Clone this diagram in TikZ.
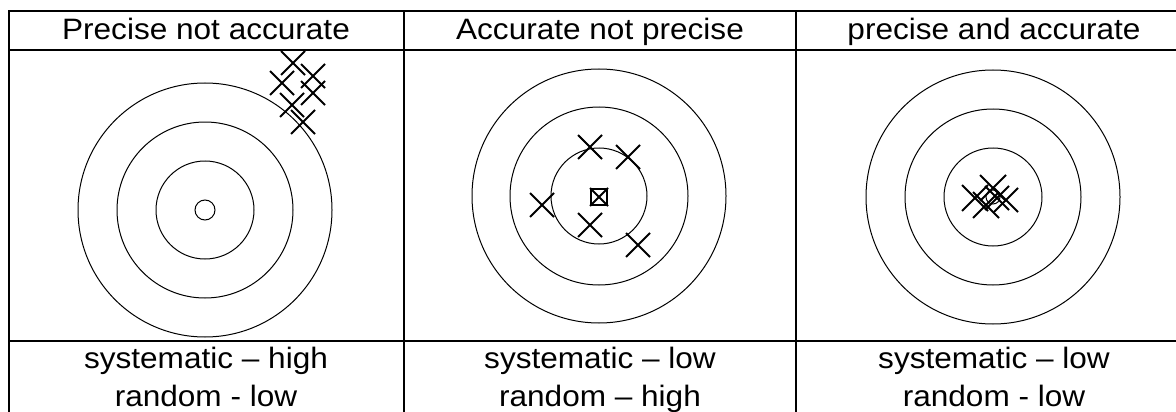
\documentclass[tikz,border=0pt]{standalone}
\usepackage{fontspec}
\setmainfont{Liberation Sans}[FakeStretch=1.07]
\tikzset{
  grid/.style={line width=2.6pt, line cap=rect},
  ring/.style={line width=1pt},
  hit/.style={line width=2pt},
  label/.style={anchor=base, inner sep=0pt, font=\fontsize{29.5}{34}\selectfont},
}
\newcommand{\hitmark}[3]{% x y half
  \draw[hit] (#1-#3,#2-#3) -- (#1+#3,#2+#3) (#1-#3,#2+#3) -- (#1+#3,#2-#3);}
\begin{document}
\begin{tikzpicture}[x=1pt,y=-1pt]
\useasboundingbox (0,0) rectangle (1176,412);
\clip (0,0) rectangle (1176,412);
% table
\draw[grid] (9,11) -- (1190,11);
\draw[grid] (9,50) -- (1190,50);
\draw[grid] (9,341) -- (1190,341);
\draw[grid] (9,11) -- (9,420);
\draw[grid] (404,11) -- (404,420);
\draw[grid] (796,11) -- (796,420);
% headers
\node[label] (h1) at (206,40) {Precise not accurate};
\node[label] (h2) at (600,40) {Accurate not precise};
\node[label] (h3) at (994,40) {precise and accurate};
% footers
\node[label] (s1) at (206,368) {systematic – high};
\node[label] (r1) at (206,406) {random - low};
\node[label] (s2) at (600,368) {systematic – low};
\node[label] (r2) at (600,406) {random – high};
\node[label] (s3) at (994,368) {systematic – low};
\node[label] (r3) at (994,406) {random - low};
% target 1
\foreach \r in {127,88,49,10} \draw[ring] (205,210) circle (\r);
\hitmark{293}{63}{12}
\hitmark{282}{83}{12}
\hitmark{313}{76}{12}
\hitmark{313}{93}{12}
\hitmark{292}{105}{12}
\hitmark{303}{122}{12}
% target 2
\foreach \r in {127,89,48} \draw[ring] (599,196) circle (\r);
\draw[line width=1.5pt] (591,189) rectangle (607,205);
\hitmark{599}{197}{9}
\hitmark{590}{147}{12}
\draw[line width=1.2pt] (579,136) -- (601,158);
\hitmark{628}{157}{12}
\hitmark{542}{205}{12}
\hitmark{590}{225}{12}
\hitmark{638}{245}{12}
% target 3
\foreach \r in {127,88,49} \draw[ring] (993,197) circle (\r);
\draw[ring] (993,197) circle (7);
\hitmark{975}{198}{13}
\hitmark{993}{188}{13}
\hitmark{997}{198}{12}
\hitmark{1006}{200}{12}
\hitmark{986}{205}{13}
\end{tikzpicture}
\end{document}
